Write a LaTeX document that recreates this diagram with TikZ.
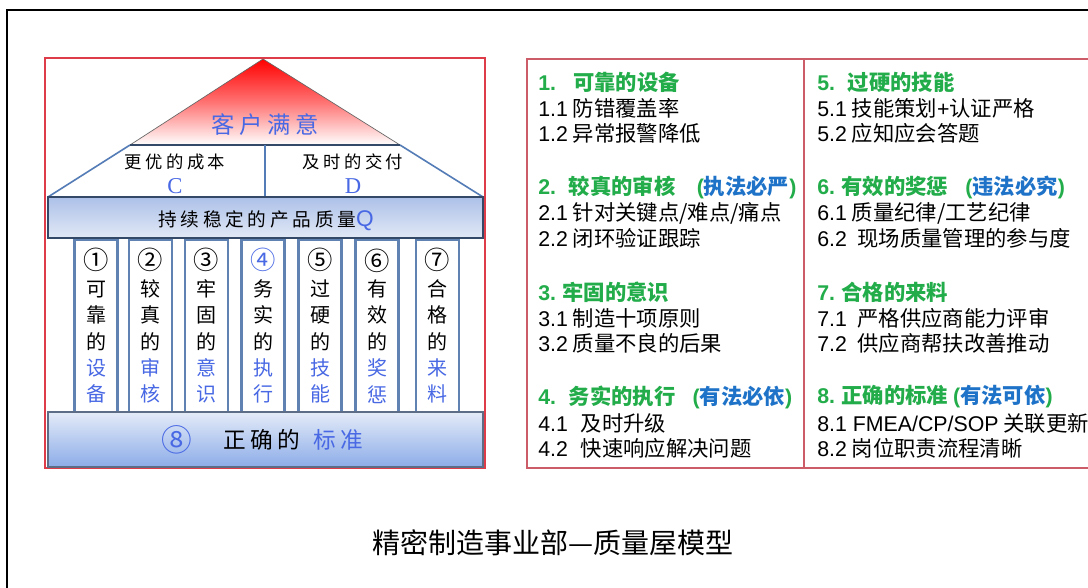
\documentclass[tikz,border=0pt]{standalone}
\usepackage{fontspec}
\setmainfont{Liberation Sans}
\newfontfamily\cjk{Noto Sans CJK SC}
\newfontfamily\cjksp[LetterSpace=20]{Noto Sans CJK SC}
\newfontfamily\serifC{Liberation Serif}
\newcommand\lat[1]{{\rmfamily #1}}
\newcommand\circd[1]{{\fontsize{19}{19.8}\selectfont #1}}
\definecolor{hgreen}{RGB}{34,172,74}
\definecolor{hblue}{RGB}{30,115,200}
\definecolor{kblue}{RGB}{72,104,228}
\definecolor{framered}{RGB}{222,60,72}
\definecolor{tablered}{RGB}{204,92,104}
\definecolor{pillarblue}{RGB}{96,130,178}
\definecolor{roofblue}{RGB}{84,124,182}
\definecolor{navy}{RGB}{52,72,104}
\definecolor{qtop}{RGB}{172,192,232}
\definecolor{qbot}{RGB}{226,233,246}
\definecolor{btop}{RGB}{228,235,248}
\definecolor{bbot}{RGB}{140,172,232}
\begin{document}
\begin{tikzpicture}[x=0.75pt,y=-0.75pt,
  tabtext/.style={anchor=west, inner sep=0pt, font=\cjk\fontsize{16}{18}\selectfont},
  tabhead/.style={anchor=west, inner sep=0pt, font=\cjk\bfseries\fontsize{16}{18}\selectfont, text=hgreen},
  pillar/.style={draw=pillarblue, line width=1.8pt, fill=white, minimum width=32.25pt, minimum height=129pt, inner sep=0pt},
  pillartext/.style={align=center, inner sep=0pt, font=\cjk\fontsize{15}{19.8}\selectfont},
  rooftext/.style={inner sep=0pt, font=\cjksp\fontsize{13}{15}\selectfont},
  letter/.style={inner sep=0pt, text=kblue, font=\serifC\fontsize{17}{18}\selectfont}]
\useasboundingbox (0,0) rectangle (1088,588);
\fill[white] (0,0) rectangle (1088,588);
% outer frame
\draw[black, line width=2.2pt] (7,620) -- (7,10) -- (1120,10);
% house frame
\draw[framered, line width=0.9pt] (45,58) rectangle (485,468);
% roof
\coordinate (apex) at (263,59);
\coordinate (rl) at (130,145);
\coordinate (rr) at (400,145);
\coordinate (bl) at (48,197);
\coordinate (br) at (483,197);
\shade[top color=red, bottom color=white, middle color=red!55!white] (apex) -- (rl) -- (rr) -- cycle;
\draw[black!60, line width=0.5pt] (rl) -- (apex) -- (rr);
\draw[roofblue, line width=1.2pt] (rl) -- (bl);
\draw[roofblue, line width=1.2pt] (rr) -- (br);
\draw[navy, line width=1.5pt] (rl) -- (rr);
\coordinate (dt) at (265,145);
\coordinate (db) at (265,197);
\draw[roofblue, line width=1.8pt] (dt) -- (db);
\node[rooftext, text=kblue, font=\cjksp\fontsize{17.5}{20}\selectfont] (sat) at (265,125) {客户满意};
\node[rooftext] (cost) at (175,162) {更优的成本};
\node[letter] (c) at (175,186) {C};
\node[rooftext] (deliv) at (353,162) {及时的交付};
\node[letter] (d) at (353,186) {D};
% quality bar
\node[draw=navy, line width=1.1pt, top color=qtop, bottom color=qbot, minimum width=326.25pt, minimum height=30.75pt, inner sep=0pt] (qual) at (265.5,217.5) {};
\node[inner sep=0pt, font=\cjksp\fontsize{14}{16}\selectfont] (qtext) at (266,221) {持续稳定的产品质量{\rmfamily\fontsize{17}{18}\selectfont\color{kblue}Q}};
% pillars
\node[pillar] (p1) at (96,326) {};
\node[pillar] (p2) at (150.5,326) {};
\node[pillar] (p3) at (206.5,326) {};
\node[pillar] (p4) at (263,326) {};
\node[pillar] (p5) at (320,326) {};
\node[pillar] (p6) at (377,326) {};
\node[pillar] (p7) at (437.5,326) {};
\node[pillartext] (t1) at (p1) {\circd{①}\\可\\靠\\的\\{\color{kblue}设}\\{\color{kblue}备}};
\node[pillartext] (t2) at (p2) {\circd{②}\\较\\真\\的\\{\color{kblue}审}\\{\color{kblue}核}};
\node[pillartext] (t3) at (p3) {\circd{③}\\牢\\固\\的\\{\color{kblue}意}\\{\color{kblue}识}};
\node[pillartext] (t4) at (p4) {{\color{kblue}\circd{④}}\\务\\实\\的\\{\color{kblue}执}\\{\color{kblue}行}};
\node[pillartext] (t5) at (p5) {\circd{⑤}\\过\\硬\\的\\{\color{kblue}技}\\{\color{kblue}能}};
\node[pillartext] (t6) at (p6) {\circd{⑥}\\有\\效\\的\\{\color{kblue}奖}\\{\color{kblue}惩}};
\node[pillartext] (t7) at (p7) {\circd{⑦}\\合\\格\\的\\{\color{kblue}来}\\{\color{kblue}料}};
% base bar
\node[draw=navy!80, line width=1.1pt, top color=btop, bottom color=bbot, minimum width=326.25pt, minimum height=41.25pt, inner sep=0pt] (base) at (265.5,439.5) {};
\node[inner sep=0pt, text=kblue, font=\cjk\fontsize{23}{24}\selectfont] (n8) at (177,440) {⑧};
\node[inner sep=0pt, font=\cjksp\fontsize{17}{20}\selectfont] (zq) at (262,440) {正确的};
\node[inner sep=0pt, text=kblue, font=\cjksp\fontsize{17}{20}\selectfont] (bz) at (338,440) {标准};
% table
\draw[tablered, line width=1.1pt] (1120,59) -- (527,59) -- (527,468) -- (1120,468);
\draw[tablered, line width=1.1pt] (804,59) -- (804,468);
% left column
\node[tabhead] (h1) at (538,82) {\lat{1.}\hspace{0.8em}可靠的设备};
\node[tabtext] (l11) at (538,108) {\lat{1.1} 防错覆盖率};
\node[tabtext] (l12) at (538,133) {\lat{1.2} 异常报警降低};
\node[tabhead] (h2) at (538,187) {\lat{2.}\hspace{0.6em}较真的审核\hspace{1em}\lat{(}{\color{hblue}执法必严}\lat{)}};
\node[tabtext] (l21) at (538,213) {\lat{2.1} 针对关键点/难点/痛点};
\node[tabtext] (l22) at (538,238) {\lat{2.2} 闭环验证跟踪};
\node[tabhead] (h3) at (538,292) {\lat{3.} 牢固的意识};
\node[tabtext] (l31) at (538,318) {\lat{3.1} 制造十项原则};
\node[tabtext] (l32) at (538,343) {\lat{3.2} 质量不良的后果};
\node[tabhead] (h4) at (538,397) {\lat{4.}\hspace{0.6em}务实的执行\hspace{0.8em}\lat{(}{\color{hblue}有法必依}\lat{)}};
\node[tabtext] (l41) at (538,423) {\lat{4.1}\hspace{0.6em}及时升级};
\node[tabtext] (l42) at (538,448) {\lat{4.2}\hspace{0.6em}快速响应解决问题};
% right column
\node[tabhead] (h5) at (817,82) {\lat{5.}\hspace{0.6em}过硬的技能};
\node[tabtext] (l51) at (817,108) {\lat{5.1} 技能策划\lat{+}认证严格};
\node[tabtext] (l52) at (817,133) {\lat{5.2} 应知应会答题};
\node[tabhead] (h6) at (817,187) {\lat{6.} 有效的奖惩\hspace{0.8em}\lat{(}{\color{hblue}违法必究}\lat{)}};
\node[tabtext] (l61) at (817,213) {\lat{6.1} 质量纪律/工艺纪律};
\node[tabtext] (l62) at (817,238) {\lat{6.2}\hspace{0.5em}现场质量管理的参与度};
\node[tabhead] (h7) at (817,292) {\lat{7.} 合格的来料};
\node[tabtext] (l71) at (817,318) {\lat{7.1}\hspace{0.5em}严格供应商能力评审};
\node[tabtext] (l72) at (817,343) {\lat{7.2}\hspace{0.5em}供应商帮扶改善推动};
\node[tabhead] (h8) at (817,397) {\lat{8.} 正确的标准 \lat{(}{\color{hblue}有法可依}\lat{)}};
\node[tabtext] (l81) at (817,423) {\lat{8.1 FMEA/CP/SOP} 关联更新};
\node[tabtext] (l82) at (817,448) {\lat{8.2} 岗位职责流程清晰};
% caption
\node[inner sep=0pt, font=\cjk\fontsize{21}{24}\selectfont] (cap) at (553,543) {精密制造事业部—质量屋模型};
\end{tikzpicture}
\end{document}
